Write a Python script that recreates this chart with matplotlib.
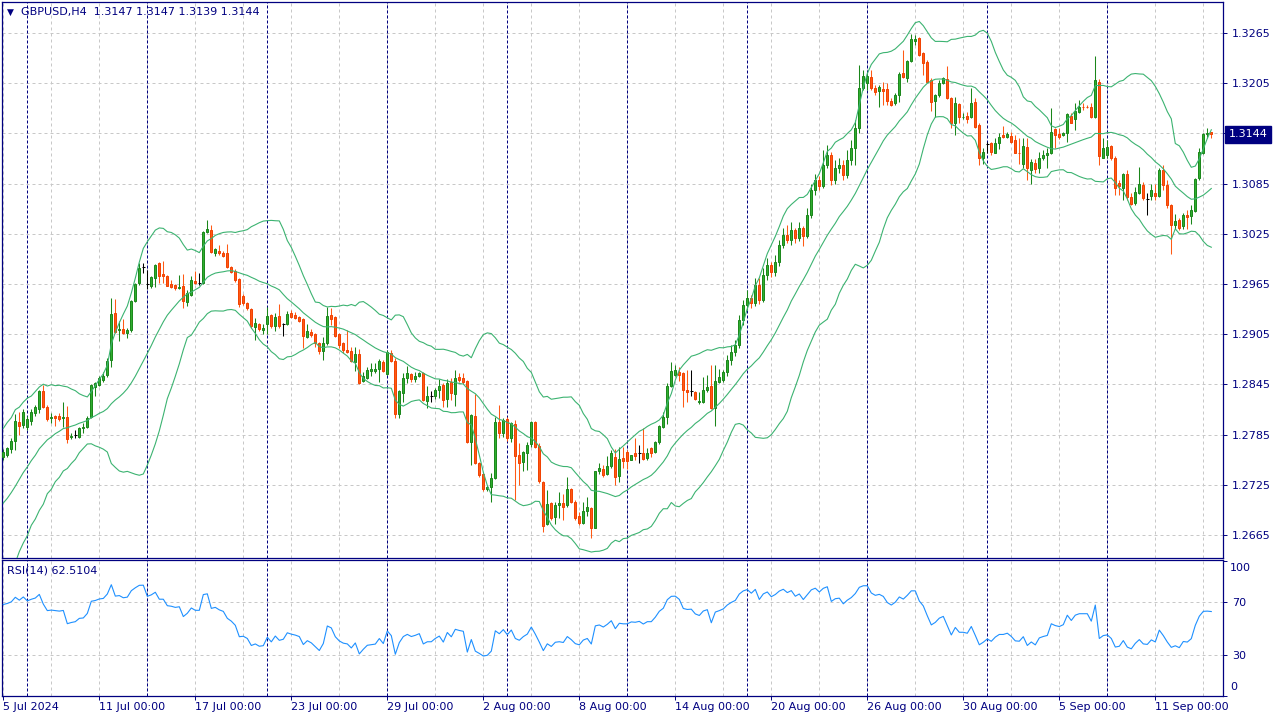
import numpy as np
import matplotlib
matplotlib.use("Agg")
import matplotlib.pyplot as plt
from matplotlib.transforms import blended_transform_factory

# GBPUSD H4 bars, 5 Jul 2024 00:00 onwards
opens = [
    1.2758, 1.2761, 1.2768, 1.2777, 1.2800, 1.2797, 1.2794, 1.2801, 1.2811, 1.2816,
    1.2837, 1.2818, 1.2805, 1.2807, 1.2807, 1.2805, 1.2806, 1.2782, 1.2785, 1.2782,
    1.2793, 1.2794, 1.2806, 1.2842, 1.2844, 1.2850, 1.2856, 1.2874, 1.2930, 1.2910,
    1.2911, 1.2907, 1.2910, 1.2945, 1.2966, 1.2985, 1.2965, 1.2963, 1.2972, 1.2990,
    1.2977, 1.2975, 1.2965, 1.2964, 1.2960, 1.2963, 1.2944, 1.2952, 1.2969, 1.2966,
    1.2966, 1.3027, 1.3030, 1.3002, 1.3005, 1.3002, 1.3002, 1.2985, 1.2981, 1.2971,
    1.2951, 1.2942, 1.2935, 1.2914, 1.2917, 1.2910, 1.2917, 1.2928, 1.2915, 1.2927,
    1.2917, 1.2917, 1.2930, 1.2928, 1.2926, 1.2923, 1.2902, 1.2908, 1.2905, 1.2895,
    1.2885, 1.2895, 1.2928, 1.2926, 1.2905, 1.2895, 1.2886, 1.2885, 1.2872, 1.2881,
    1.2849, 1.2853, 1.2861, 1.2861, 1.2864, 1.2872, 1.2858, 1.2883, 1.2873, 1.2810,
    1.2835, 1.2853, 1.2858, 1.2852, 1.2855, 1.2859, 1.2825, 1.2831, 1.2831, 1.2838,
    1.2844, 1.2828, 1.2848, 1.2834, 1.2854, 1.2853, 1.2849, 1.2776, 1.2807, 1.2751,
    1.2738, 1.2720, 1.2722, 1.2733, 1.2800, 1.2787, 1.2804, 1.2781, 1.2798, 1.2761,
    1.2752, 1.2763, 1.2774, 1.2800, 1.2771, 1.2729, 1.2678, 1.2703, 1.2687, 1.2701,
    1.2703, 1.2701, 1.2720, 1.2705, 1.2688, 1.2679, 1.2694, 1.2697, 1.2674, 1.2741,
    1.2744, 1.2738, 1.2748, 1.2758, 1.2736, 1.2757, 1.2764, 1.2755, 1.2763, 1.2763,
    1.2763, 1.2757, 1.2769, 1.2764, 1.2776, 1.2794, 1.2806, 1.2843, 1.2856, 1.2860,
    1.2859, 1.2838, 1.2837, 1.2836, 1.2824, 1.2824, 1.2838, 1.2843, 1.2817, 1.2848,
    1.2850, 1.2860, 1.2874, 1.2884, 1.2892, 1.2922, 1.2940, 1.2948, 1.2942, 1.2964,
    1.2946, 1.2976, 1.2988, 1.2979, 1.2991, 1.3012, 1.3024, 1.3018, 1.3030, 1.3020,
    1.3032, 1.3022, 1.3047, 1.3077, 1.3089, 1.3082, 1.3107, 1.3119, 1.3089, 1.3104,
    1.3107, 1.3095, 1.3113, 1.3127, 1.3151, 1.3199, 1.3205, 1.3212, 1.3199, 1.3196,
    1.3198, 1.3198, 1.3184, 1.3181, 1.3191, 1.3217, 1.3211, 1.3231, 1.3255, 1.3259,
    1.3241, 1.3230, 1.3209, 1.3184, 1.3191, 1.3205, 1.3210, 1.3187, 1.3158, 1.3180,
    1.3164, 1.3166, 1.3164, 1.3183, 1.3155, 1.3115, 1.3132, 1.3134, 1.3122, 1.3134,
    1.3143, 1.3141, 1.3142, 1.3137, 1.3122, 1.3109, 1.3129, 1.3101, 1.3110, 1.3104,
    1.3116, 1.3119, 1.3121, 1.3150, 1.3144, 1.3143, 1.3145, 1.3166, 1.3162, 1.3171,
    1.3177, 1.3177, 1.3177, 1.3164, 1.3207, 1.3116, 1.3119, 1.3130, 1.3116, 1.3086,
    1.3080, 1.3097, 1.3069, 1.3062, 1.3074, 1.3083, 1.3066, 1.3070, 1.3074, 1.3070,
    1.3101, 1.3083, 1.3059, 1.3036, 1.3041, 1.3034, 1.3047, 1.3046, 1.3052, 1.3092,
    1.3122, 1.3144, 1.3147,
]
highs = [
    1.2768, 1.2770, 1.2781, 1.2810, 1.2812, 1.2816, 1.2807, 1.2816, 1.2820, 1.2838,
    1.2844, 1.2820, 1.2811, 1.2809, 1.2811, 1.2824, 1.2819, 1.2787, 1.2791, 1.2794,
    1.2799, 1.2807, 1.2846, 1.2848, 1.2855, 1.2860, 1.2877, 1.2948, 1.2947, 1.2921,
    1.2923, 1.2912, 1.2946, 1.2966, 1.2990, 1.2990, 1.2982, 1.2975, 1.2989, 1.2991,
    1.2992, 1.2976, 1.2970, 1.2965, 1.2976, 1.2977, 1.2958, 1.2975, 1.2981, 1.2978,
    1.3028, 1.3042, 1.3036, 1.3008, 1.3012, 1.3005, 1.3013, 1.2987, 1.2983, 1.2972,
    1.2953, 1.2944, 1.2936, 1.2924, 1.2918, 1.2917, 1.2938, 1.2929, 1.2930, 1.2941,
    1.2918, 1.2933, 1.2934, 1.2932, 1.2927, 1.2924, 1.2917, 1.2911, 1.2907, 1.2896,
    1.2902, 1.2938, 1.2936, 1.2927, 1.2907, 1.2896, 1.2910, 1.2890, 1.2890, 1.2887,
    1.2860, 1.2866, 1.2871, 1.2871, 1.2875, 1.2874, 1.2886, 1.2886, 1.2877, 1.2838,
    1.2859, 1.2867, 1.2859, 1.2860, 1.2860, 1.2860, 1.2843, 1.2837, 1.2841, 1.2852,
    1.2847, 1.2852, 1.2853, 1.2862, 1.2859, 1.2859, 1.2850, 1.2810, 1.2834, 1.2752,
    1.2739, 1.2725, 1.2739, 1.2806, 1.2820, 1.2805, 1.2806, 1.2800, 1.2803, 1.2775,
    1.2765, 1.2776, 1.2801, 1.2801, 1.2775, 1.2730, 1.2719, 1.2705, 1.2705, 1.2717,
    1.2714, 1.2734, 1.2721, 1.2707, 1.2693, 1.2705, 1.2711, 1.2699, 1.2742, 1.2751,
    1.2749, 1.2760, 1.2767, 1.2768, 1.2770, 1.2770, 1.2767, 1.2761, 1.2781, 1.2773,
    1.2793, 1.2769, 1.2770, 1.2778, 1.2797, 1.2812, 1.2847, 1.2872, 1.2868, 1.2866,
    1.2860, 1.2862, 1.2862, 1.2837, 1.2836, 1.2854, 1.2856, 1.2868, 1.2868, 1.2864,
    1.2862, 1.2880, 1.2892, 1.2898, 1.2928, 1.2946, 1.2958, 1.2952, 1.2972, 1.2972,
    1.2984, 1.2996, 1.2991, 1.3000, 1.3018, 1.3032, 1.3036, 1.3039, 1.3032, 1.3039,
    1.3034, 1.3056, 1.3085, 1.3096, 1.3094, 1.3125, 1.3131, 1.3123, 1.3113, 1.3116,
    1.3113, 1.3125, 1.3137, 1.3161, 1.3227, 1.3221, 1.3217, 1.3221, 1.3203, 1.3203,
    1.3206, 1.3205, 1.3187, 1.3193, 1.3218, 1.3245, 1.3233, 1.3264, 1.3263, 1.3260,
    1.3242, 1.3233, 1.3211, 1.3192, 1.3209, 1.3212, 1.3226, 1.3189, 1.3188, 1.3181,
    1.3169, 1.3170, 1.3199, 1.3187, 1.3157, 1.3127, 1.3135, 1.3135, 1.3139, 1.3145,
    1.3154, 1.3147, 1.3147, 1.3143, 1.3140, 1.3140, 1.3139, 1.3114, 1.3114, 1.3123,
    1.3125, 1.3127, 1.3175, 1.3152, 1.3152, 1.3147, 1.3169, 1.3169, 1.3181, 1.3185,
    1.3181, 1.3179, 1.3181, 1.3237, 1.3210, 1.3139, 1.3137, 1.3131, 1.3118, 1.3089,
    1.3098, 1.3101, 1.3074, 1.3081, 1.3105, 1.3087, 1.3074, 1.3085, 1.3085, 1.3104,
    1.3107, 1.3089, 1.3061, 1.3049, 1.3044, 1.3050, 1.3053, 1.3059, 1.3092, 1.3127,
    1.3145, 1.3151, 1.3147,
]
lows = [
    1.2755, 1.2758, 1.2763, 1.2767, 1.2785, 1.2793, 1.2791, 1.2797, 1.2807, 1.2811,
    1.2817, 1.2801, 1.2799, 1.2795, 1.2801, 1.2794, 1.2775, 1.2780, 1.2781, 1.2781,
    1.2787, 1.2793, 1.2805, 1.2831, 1.2843, 1.2848, 1.2854, 1.2866, 1.2907, 1.2897,
    1.2905, 1.2901, 1.2908, 1.2944, 1.2964, 1.2978, 1.2959, 1.2960, 1.2962, 1.2966,
    1.2966, 1.2963, 1.2960, 1.2958, 1.2959, 1.2936, 1.2939, 1.2951, 1.2965, 1.2964,
    1.2965, 1.3026, 1.3002, 1.2999, 1.3000, 1.2997, 1.2984, 1.2978, 1.2967, 1.2938,
    1.2940, 1.2934, 1.2912, 1.2898, 1.2909, 1.2905, 1.2905, 1.2912, 1.2909, 1.2912,
    1.2903, 1.2916, 1.2924, 1.2923, 1.2920, 1.2889, 1.2901, 1.2902, 1.2890, 1.2881,
    1.2874, 1.2892, 1.2916, 1.2902, 1.2889, 1.2883, 1.2883, 1.2872, 1.2861, 1.2846,
    1.2848, 1.2851, 1.2855, 1.2859, 1.2848, 1.2860, 1.2856, 1.2872, 1.2805, 1.2805,
    1.2824, 1.2847, 1.2848, 1.2848, 1.2854, 1.2825, 1.2817, 1.2824, 1.2828, 1.2829,
    1.2818, 1.2818, 1.2826, 1.2819, 1.2848, 1.2846, 1.2775, 1.2749, 1.2750, 1.2734,
    1.2718, 1.2718, 1.2705, 1.2732, 1.2781, 1.2782, 1.2777, 1.2776, 1.2707, 1.2725,
    1.2742, 1.2743, 1.2770, 1.2769, 1.2727, 1.2669, 1.2677, 1.2683, 1.2678, 1.2685,
    1.2683, 1.2699, 1.2703, 1.2683, 1.2677, 1.2678, 1.2688, 1.2661, 1.2673, 1.2738,
    1.2734, 1.2737, 1.2745, 1.2725, 1.2729, 1.2745, 1.2744, 1.2755, 1.2755, 1.2751,
    1.2755, 1.2755, 1.2758, 1.2763, 1.2774, 1.2793, 1.2798, 1.2842, 1.2855, 1.2849,
    1.2818, 1.2824, 1.2831, 1.2826, 1.2822, 1.2823, 1.2836, 1.2816, 1.2795, 1.2847,
    1.2848, 1.2855, 1.2868, 1.2879, 1.2889, 1.2916, 1.2934, 1.2936, 1.2939, 1.2941,
    1.2944, 1.2970, 1.2973, 1.2975, 1.2986, 1.3008, 1.3014, 1.3012, 1.3014, 1.3016,
    1.3011, 1.3020, 1.3044, 1.3071, 1.3077, 1.3080, 1.3104, 1.3083, 1.3085, 1.3098,
    1.3089, 1.3092, 1.3107, 1.3107, 1.3146, 1.3197, 1.3197, 1.3197, 1.3191, 1.3177,
    1.3179, 1.3179, 1.3178, 1.3179, 1.3182, 1.3211, 1.3206, 1.3230, 1.3251, 1.3237,
    1.3215, 1.3206, 1.3172, 1.3165, 1.3188, 1.3204, 1.3186, 1.3151, 1.3143, 1.3158,
    1.3162, 1.3158, 1.3163, 1.3151, 1.3107, 1.3109, 1.3121, 1.3119, 1.3121, 1.3126,
    1.3139, 1.3139, 1.3134, 1.3121, 1.3109, 1.3104, 1.3089, 1.3085, 1.3098, 1.3098,
    1.3113, 1.3104, 1.3120, 1.3128, 1.3138, 1.3142, 1.3135, 1.3157, 1.3149, 1.3169,
    1.3173, 1.3175, 1.3163, 1.3163, 1.3107, 1.3115, 1.3115, 1.3113, 1.3071, 1.3071,
    1.3065, 1.3065, 1.3059, 1.3059, 1.3073, 1.3065, 1.3047, 1.3065, 1.3065, 1.3069,
    1.3077, 1.3056, 1.3001, 1.3031, 1.3030, 1.3031, 1.3031, 1.3037, 1.3051, 1.3089,
    1.3120, 1.3140, 1.3139,
]
closes = [
    1.2764, 1.2769, 1.2777, 1.2801, 1.2795, 1.2812, 1.2804, 1.2812, 1.2818, 1.2837,
    1.2818, 1.2804, 1.2806, 1.2805, 1.2804, 1.2806, 1.2780, 1.2783, 1.2785, 1.2793,
    1.2794, 1.2805, 1.2844, 1.2847, 1.2853, 1.2855, 1.2873, 1.2929, 1.2908, 1.2911,
    1.2907, 1.2910, 1.2945, 1.2965, 1.2984, 1.2985, 1.2965, 1.2973, 1.2988, 1.2975,
    1.2975, 1.2963, 1.2962, 1.2960, 1.2962, 1.2945, 1.2954, 1.2970, 1.2966, 1.2966,
    1.3027, 1.3031, 1.3003, 1.3007, 1.3002, 1.2999, 1.2985, 1.2979, 1.2970, 1.2941,
    1.2942, 1.2936, 1.2915, 1.2918, 1.2911, 1.2912, 1.2927, 1.2915, 1.2926, 1.2915,
    1.2917, 1.2929, 1.2926, 1.2924, 1.2921, 1.2903, 1.2909, 1.2904, 1.2895, 1.2885,
    1.2895, 1.2927, 1.2923, 1.2903, 1.2892, 1.2886, 1.2884, 1.2873, 1.2881, 1.2847,
    1.2855, 1.2862, 1.2863, 1.2864, 1.2873, 1.2861, 1.2884, 1.2873, 1.2810, 1.2837,
    1.2853, 1.2859, 1.2852, 1.2855, 1.2859, 1.2826, 1.2831, 1.2831, 1.2838, 1.2843,
    1.2826, 1.2847, 1.2835, 1.2853, 1.2850, 1.2848, 1.2776, 1.2809, 1.2751, 1.2737,
    1.2720, 1.2722, 1.2733, 1.2800, 1.2787, 1.2803, 1.2781, 1.2799, 1.2760, 1.2751,
    1.2764, 1.2773, 1.2800, 1.2770, 1.2730, 1.2676, 1.2702, 1.2685, 1.2701, 1.2703,
    1.2699, 1.2720, 1.2705, 1.2685, 1.2679, 1.2694, 1.2699, 1.2674, 1.2741, 1.2745,
    1.2737, 1.2748, 1.2763, 1.2734, 1.2756, 1.2754, 1.2754, 1.2761, 1.2760, 1.2763,
    1.2756, 1.2763, 1.2763, 1.2776, 1.2795, 1.2806, 1.2843, 1.2861, 1.2862, 1.2856,
    1.2838, 1.2836, 1.2837, 1.2828, 1.2825, 1.2838, 1.2842, 1.2817, 1.2849, 1.2854,
    1.2860, 1.2874, 1.2884, 1.2892, 1.2922, 1.2940, 1.2948, 1.2942, 1.2964, 1.2946,
    1.2976, 1.2988, 1.2979, 1.2991, 1.3012, 1.3024, 1.3018, 1.3030, 1.3020, 1.3032,
    1.3022, 1.3047, 1.3077, 1.3089, 1.3082, 1.3107, 1.3119, 1.3089, 1.3104, 1.3107,
    1.3095, 1.3113, 1.3127, 1.3151, 1.3199, 1.3214, 1.3214, 1.3199, 1.3194, 1.3200,
    1.3196, 1.3184, 1.3179, 1.3191, 1.3216, 1.3212, 1.3231, 1.3258, 1.3258, 1.3239,
    1.3229, 1.3207, 1.3183, 1.3191, 1.3205, 1.3211, 1.3187, 1.3158, 1.3181, 1.3165,
    1.3165, 1.3162, 1.3181, 1.3153, 1.3116, 1.3123, 1.3132, 1.3123, 1.3134, 1.3141,
    1.3141, 1.3144, 1.3135, 1.3122, 1.3121, 1.3130, 1.3104, 1.3111, 1.3102, 1.3116,
    1.3119, 1.3121, 1.3147, 1.3143, 1.3141, 1.3145, 1.3168, 1.3158, 1.3172, 1.3176,
    1.3176, 1.3176, 1.3164, 1.3209, 1.3118, 1.3127, 1.3129, 1.3116, 1.3080, 1.3082,
    1.3097, 1.3069, 1.3061, 1.3075, 1.3085, 1.3068, 1.3066, 1.3077, 1.3070, 1.3101,
    1.3083, 1.3059, 1.3036, 1.3040, 1.3032, 1.3047, 1.3045, 1.3053, 1.3090, 1.3123,
    1.3144, 1.3145, 1.3144,
]
# closes before the first visible bar, estimated, only needed to seed BB(20) / RSI(14)
warmup_closes = [1.2655, 1.2640, 1.2650, 1.2632, 1.2648, 1.2670, 1.2662, 1.2690,
                 1.2680, 1.2710, 1.2700, 1.2738, 1.2725, 1.2748, 1.2740, 1.2760,
                 1.2748, 1.2756, 1.2750]

price_levels = [1.2665, 1.2725, 1.2785, 1.2845, 1.2905, 1.2965, 1.3025,
                1.3085, 1.3145, 1.3205, 1.3265]
time_label_bars = [0, 24, 48, 72, 96, 120, 144, 168, 192, 216, 240, 264, 288]
time_labels = ["5 Jul 2024", "11 Jul 00:00", "17 Jul 00:00", "23 Jul 00:00",
               "29 Jul 00:00", "2 Aug 00:00", "8 Aug 00:00", "14 Aug 00:00",
               "20 Aug 00:00", "26 Aug 00:00", "30 Aug 00:00", "5 Sep 00:00",
               "11 Sep 00:00"]
week_start_bars = [6, 36, 66, 96, 126, 156, 186, 216, 246, 276]

NAVY = "#000080"
GRID = "#c8c8c8"
BULL, BULL_EDGE = "#2fae2f", "#1a861a"
BEAR, BEAR_EDGE = "#ff5a14", "#f04000"
BAND = "#3cb371"
RSI_C = "#1e90ff"

o = np.array(opens)
c = np.array(closes)
h = np.maximum(np.array(highs), np.maximum(o, c))
l = np.minimum(np.array(lows), np.minimum(o, c))
n = len(c)
x = np.arange(n)
nw = len(warmup_closes)

# Bollinger bands 20, 2
allc = np.array(warmup_closes + closes)
mid = np.array([allc[i - 19:i + 1].mean() for i in range(19, len(allc))])
sd = np.array([allc[i - 19:i + 1].std() for i in range(19, len(allc))])
off = nw - 19
mid, sd = mid[off:], sd[off:]
upper, lower = mid + 2 * sd, mid - 2 * sd

# RSI 14 (Wilder)
d = np.diff(allc)
g = np.where(d > 0, d, 0.0)
ls = np.where(d < 0, -d, 0.0)
ag, al = g[:14].mean(), ls[:14].mean()
rsi_all = [np.nan] * 14 + [100 - 100 / (1 + ag / al)]
for i in range(14, len(d)):
    ag = (ag * 13 + g[i]) / 14
    al = (al * 13 + ls[i]) / 14
    rsi_all.append(100 - 100 / (1 + ag / al))
rsi = np.array(rsi_all)[nw:]

plt.rcParams["font.family"] = ["DejaVu Sans"]
W, H = 1280, 720
fig = plt.figure(figsize=(12.8, 7.2), dpi=100)
fig.patch.set_facecolor("white")


def rect(x0, y0, x1, y1):
    return [x0 / W, 1 - y1 / H, (x1 - x0) / W, (y1 - y0) / H]


ax = fig.add_axes(rect(2, 2, 1222.5, 557.5))
ax2 = fig.add_axes(rect(2, 559.5, 1222.5, 695.5))

for a in (ax, ax2):
    a.set_xlim(-0.33, 304.8)
    for s in a.spines.values():
        s.set_color(NAVY)
        s.set_linewidth(0.9)
    for b in range(0, n, 12):
        a.axvline(b, color=GRID, lw=0.72, ls=(0, (3, 3)), zorder=0)
    for b in week_start_bars:
        a.axvline(b, color=NAVY, lw=0.72, ls=(0, (3, 2)), zorder=1)

# main panel
ax.set_ylim(1.26382, 1.33020)
for p in price_levels:
    ax.axhline(p, color=GRID, lw=0.72, ls=(0, (3, 3)), zorder=0)

up = c > o
dn = c < o
eq = c == o
wick_col = np.where(up, BULL_EDGE, np.where(dn, BEAR, "black"))
ax.vlines(x, l, h, colors=wick_col, lw=0.75, zorder=2)
body_col = np.where(up, BULL, BEAR)
edge_col = np.where(up, BULL_EDGE, BEAR_EDGE)
ax.bar(x[~eq], np.abs(c - o)[~eq], bottom=np.minimum(o, c)[~eq], width=0.5,
       color=body_col[~eq], edgecolor=edge_col[~eq], linewidth=0.7, zorder=3)
ax.hlines(c[eq], x[eq] - 0.45, x[eq] + 0.45, colors="black", lw=0.75, zorder=3)

ax.plot(x, upper, color=BAND, lw=0.8, zorder=4)
ax.plot(x, mid, color=BAND, lw=0.8, zorder=4)
ax.plot(x, lower, color=BAND, lw=0.8, zorder=4)

ax.yaxis.tick_right()
ax.set_yticks(price_levels)
ax.set_yticklabels(["" if abs(p - 1.3145) < 1e-6 else f"{p:.4f}" for p in price_levels])
ax.tick_params(axis="y", direction="out", length=3, width=0.7, color=NAVY,
               labelcolor=NAVY, labelsize=8, pad=4)
ax.tick_params(axis="x", bottom=False, labelbottom=False)

tr = blended_transform_factory(ax.transAxes, ax.transData)
ax.text(1.0053, closes[-1], f"{closes[-1]:.4f}", transform=tr, color="white",
        fontsize=8, va="center", ha="left",
        bbox=dict(boxstyle="square,pad=0.32", facecolor=NAVY, edgecolor=NAVY))

fig.text(7 / W, 1 - 12 / H, "\u25bc", color=NAVY, fontsize=6.5, va="center", ha="left")
fig.text(21 / W, 1 - 12.5 / H, "GBPUSD,H4  1.3147 1.3147 1.3139 1.3144", color=NAVY,
         fontsize=8, va="center", ha="left")

# RSI panel
ax2.set_ylim(0.5, 101.3)
for lv in (70, 30):
    ax2.axhline(lv, color=GRID, lw=0.72, ls=(0, (3, 3)), zorder=0)
ax2.plot(x, rsi, color=RSI_C, lw=0.8, zorder=3)
ax2.yaxis.tick_right()
ax2.set_yticks([100, 70, 30, 0])
ax2.set_yticklabels(["", "70", "30", ""])
ax2.tick_params(axis="y", direction="out", length=3, width=0.7, color=NAVY,
                labelcolor=NAVY, labelsize=8, pad=4)
tr2 = blended_transform_factory(ax2.transAxes, ax2.transData)
ax2.text(1.0062, 95, "100", transform=tr2, color=NAVY, fontsize=8, va="center", ha="left")
ax2.text(1.0062, 6, "0", transform=tr2, color=NAVY, fontsize=8, va="center", ha="left")
ax2.text(5 / 1220.5, 93, "RSI(14) 62.5104", transform=tr2,
         color=NAVY, fontsize=8, va="center", ha="left")

ax2.set_xticks(time_label_bars)
ax2.set_xticklabels(time_labels, ha="left")
ax2.tick_params(axis="x", direction="out", length=3, width=0.7, color=NAVY,
                labelcolor=NAVY, labelsize=8, pad=1.5)

fig.savefig("out.png", dpi=100)
